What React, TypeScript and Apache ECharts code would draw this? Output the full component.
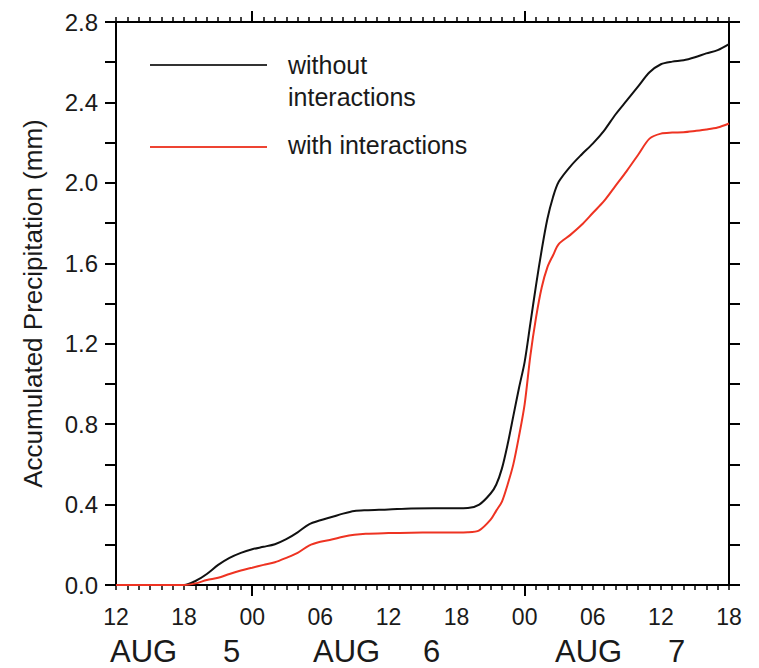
import React, { useEffect, useRef } from "react";
import * as echarts from "echarts";

// hours since AUG 5 00:00
const hours = [12, 18, 19, 20, 21, 22, 23, 24, 25, 26, 27, 28, 29, 30, 31, 32, 33, 34, 36, 38, 40, 42, 43, 44, 45, 45.5, 46, 46.5, 47, 47.5, 48, 48.5, 49, 49.5, 50, 50.5, 51, 52, 53, 54, 55, 56, 57, 58, 59, 60, 61, 62, 63, 64, 65, 66];
const withoutInteractions = [0, 0, 0.02, 0.055, 0.1, 0.135, 0.16, 0.178, 0.19, 0.203, 0.228, 0.262, 0.302, 0.322, 0.338, 0.355, 0.368, 0.372, 0.376, 0.381, 0.382, 0.382, 0.383, 0.4, 0.455, 0.5, 0.58, 0.7, 0.84, 0.98, 1.11, 1.3, 1.49, 1.666, 1.82, 1.93, 2.005, 2.08, 2.14, 2.195, 2.26, 2.34, 2.41, 2.48, 2.55, 2.59, 2.603, 2.61, 2.625, 2.644, 2.66, 2.69];
const withInteractions = [0, 0, 0.008, 0.025, 0.036, 0.055, 0.072, 0.086, 0.1, 0.113, 0.135, 0.16, 0.196, 0.215, 0.226, 0.24, 0.25, 0.255, 0.258, 0.26, 0.261, 0.261, 0.262, 0.272, 0.325, 0.37, 0.415, 0.5, 0.6, 0.74, 0.9, 1.14, 1.33, 1.48, 1.58, 1.64, 1.695, 1.74, 1.79, 1.85, 1.91, 1.985, 2.06, 2.14, 2.22, 2.245, 2.25, 2.252, 2.258, 2.265, 2.275, 2.295];
const xTickLabels = ["12", "18", "00", "06", "12", "18", "00", "06", "12", "18"];
const dayBoundaries = [24, 48];
const dayMonths = ["AUG", "AUG", "AUG"];
const dayNumbers = ["5", "6", "7"];
const seriesNames = ["without\ninteractions", "with interactions"];

const FONT = "'Liberation Sans', Arial, sans-serif";
const TXT = "#1a1a1a";

export default function App() {
  const ref = useRef<HTMLDivElement>(null);
  useEffect(() => {
    if (!ref.current) return;
    const chart = echarts.init(ref.current, undefined, { renderer: "svg" });
    const toPairs = (vals: number[]) => hours.map((h, i) => [h, vals[i]]);
    const baseX = {
      type: "value",
      min: 12,
      max: 66,
      interval: 6,
      splitLine: { show: false },
      axisLine: { show: true, lineStyle: { color: "#000", width: 2 } },
      axisTick: { show: true, length: 5, lineStyle: { color: "#000", width: 1.5 } },
      minorTick: { show: true, splitNumber: 6, length: 5, lineStyle: { color: "#000", width: 1.5 } },
      minorSplitLine: { show: false },
    };
    const tallX = {
      type: "value",
      min: 12,
      max: 66,
      splitLine: { show: false },
      axisLine: { show: false },
      axisTick: { show: true, customValues: dayBoundaries, length: 11, lineStyle: { color: "#000", width: 2 } },
      axisLabel: { show: false },
    };
    const baseY = {
      type: "value",
      min: 0,
      max: 2.8,
      interval: 0.2,
      splitLine: { show: false },
      axisLine: { show: true, lineStyle: { color: "#000", width: 2 } },
      axisTick: { show: true, length: 11, lineStyle: { color: "#000", width: 2 } },
    };
    const dayX = [110, 313, 555];
    const numX = [223, 423, 668];
    const graphics: any[] = [];
    dayMonths.forEach((m, i) => {
      graphics.push({ type: "text", x: dayX[i], y: 651, style: { text: m, fill: TXT, font: `31px ${FONT}`, verticalAlign: "middle" } });
      graphics.push({ type: "text", x: numX[i], y: 651, style: { text: dayNumbers[i], fill: TXT, font: `31px ${FONT}`, verticalAlign: "middle" } });
    });
    // legend
    graphics.push({ type: "line", shape: { x1: 150, y1: 65, x2: 267, y2: 65 }, style: { stroke: "#333", lineWidth: 2 } });
    graphics.push({ type: "text", x: 288, y: 81, style: { text: seriesNames[0], fill: TXT, font: `25px ${FONT}`, verticalAlign: "middle", lineHeight: 32 } });
    graphics.push({ type: "line", shape: { x1: 150, y1: 147, x2: 267, y2: 147 }, style: { stroke: "#ee4433", lineWidth: 2 } });
    graphics.push({ type: "text", x: 288, y: 145, style: { text: seriesNames[1], fill: TXT, font: `25px ${FONT}`, verticalAlign: "middle" } });

    chart.setOption({
      animation: false,
      backgroundColor: "#fff",
      grid: { left: 116, right: 30, top: 22, bottom: 83, containLabel: false },
      xAxis: [
        {
          ...baseX,
          position: "bottom",
          axisLabel: {
            show: true,
            margin: 20,
            color: TXT,
            fontSize: 23,
            fontFamily: FONT,
            formatter: (v: number) => xTickLabels[Math.round((v - 12) / 6)] ?? "",
          },
        },
        { ...tallX, position: "bottom" },
        { ...baseX, position: "top", axisLabel: { show: false } },
        { ...tallX, position: "top" },
      ],
      yAxis: [
        {
          ...baseY,
          position: "left",
          name: "Accumulated Precipitation (mm)",
          nameLocation: "middle",
          nameGap: 70,
          nameTextStyle: { color: TXT, fontSize: 26, fontFamily: FONT },
          axisLabel: {
            show: true,
            margin: 18,
            color: TXT,
            fontSize: 24,
            fontFamily: FONT,
            formatter: (v: number) => (Math.round(v * 10) % 4 === 0 ? v.toFixed(1) : ""),
          },
        },
        { ...baseY, position: "right", axisLabel: { show: false } },
      ],
      series: [
        {
          name: seriesNames[0],
          type: "line",
          xAxisIndex: 0,
          yAxisIndex: 0,
          data: toPairs(withoutInteractions),
          showSymbol: false,
          smooth: 0.3,
          lineStyle: { color: "#111", width: 2 },
          itemStyle: { color: "#111" },
        },
        {
          name: seriesNames[1],
          type: "line",
          xAxisIndex: 0,
          yAxisIndex: 0,
          data: toPairs(withInteractions),
          showSymbol: false,
          smooth: 0.3,
          lineStyle: { color: "#ee3322", width: 2 },
          itemStyle: { color: "#ee3322" },
        },
      ],
      graphic: graphics,
    });
    return () => chart.dispose();
  }, []);
  return <div ref={ref} style={{ width: 759, height: 668, position: "absolute", left: 0, top: 0 }} />;
}
